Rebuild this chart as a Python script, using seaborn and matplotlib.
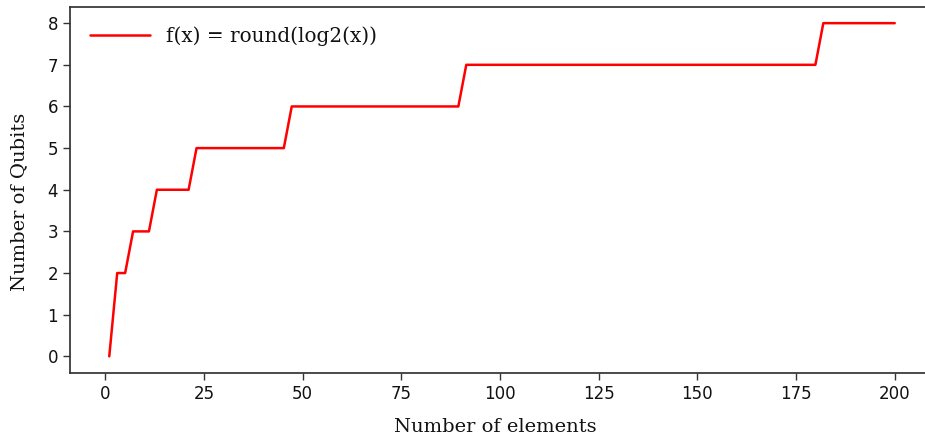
import matplotlib
matplotlib.use("Agg")
import matplotlib.pyplot as plt
import seaborn as sns
import pandas as pd

# Vertices of the step-like curve f(x) = round(log2(x))
num_elements = [1.0, 3.01, 5.02, 7.03, 11.05, 13.06, 21.10, 23.11, 45.22, 47.23,
                89.44, 91.45, 179.90, 181.91, 200.0]
num_qubits = [0, 2, 2, 3, 3, 4, 4, 5, 5, 6, 6, 7, 7, 8, 8]
series_label = "f(x) = round(log2(x))"
x_label = "Number of elements"
y_label = "Number of Qubits"

df = pd.DataFrame({"x": num_elements, "y": num_qubits, "s": series_label})

sns.set_style("ticks")
plt.rcParams["font.family"] = ["DejaVu Sans"]

fig = plt.figure(figsize=(9.25, 4.38), dpi=100)
ax = fig.add_axes([70 / 925, 1 - 373 / 438, (934 - 70) / 925, (373 - 6.5) / 438])

sns.lineplot(data=df, x="x", y="y", hue="s", palette=["#ff0000"], linewidth=1.8,
             ax=ax, sort=False)

ax.set_xticks([0, 25, 50, 75, 100, 125, 150, 175, 200])
ax.set_yticks(range(0, 9))
ax.tick_params(labelsize=12, length=5, width=1, color="#333333", labelcolor="#111111")
for s in ax.spines.values():
    s.set_color("#333333")
    s.set_linewidth(1.25)
ax.spines["right"].set_visible(False)

serif = {"family": ["DejaVu Serif"], "size": 14}
ax.set_xlabel(x_label, fontdict=serif, labelpad=11, color="#111111")
ax.set_ylabel(y_label, fontdict=serif, labelpad=14, color="#111111")
ax.xaxis.label.set_x(0.492)
ax.yaxis.label.set_y(0.468)

leg = ax.legend(loc="upper left", frameon=False, prop={"family": "DejaVu Serif", "size": 14.4},
                handlelength=3.0, borderaxespad=0.6)
for t in leg.get_texts():
    t.set_color("#111111")
fig.savefig("out.png", dpi=100)
